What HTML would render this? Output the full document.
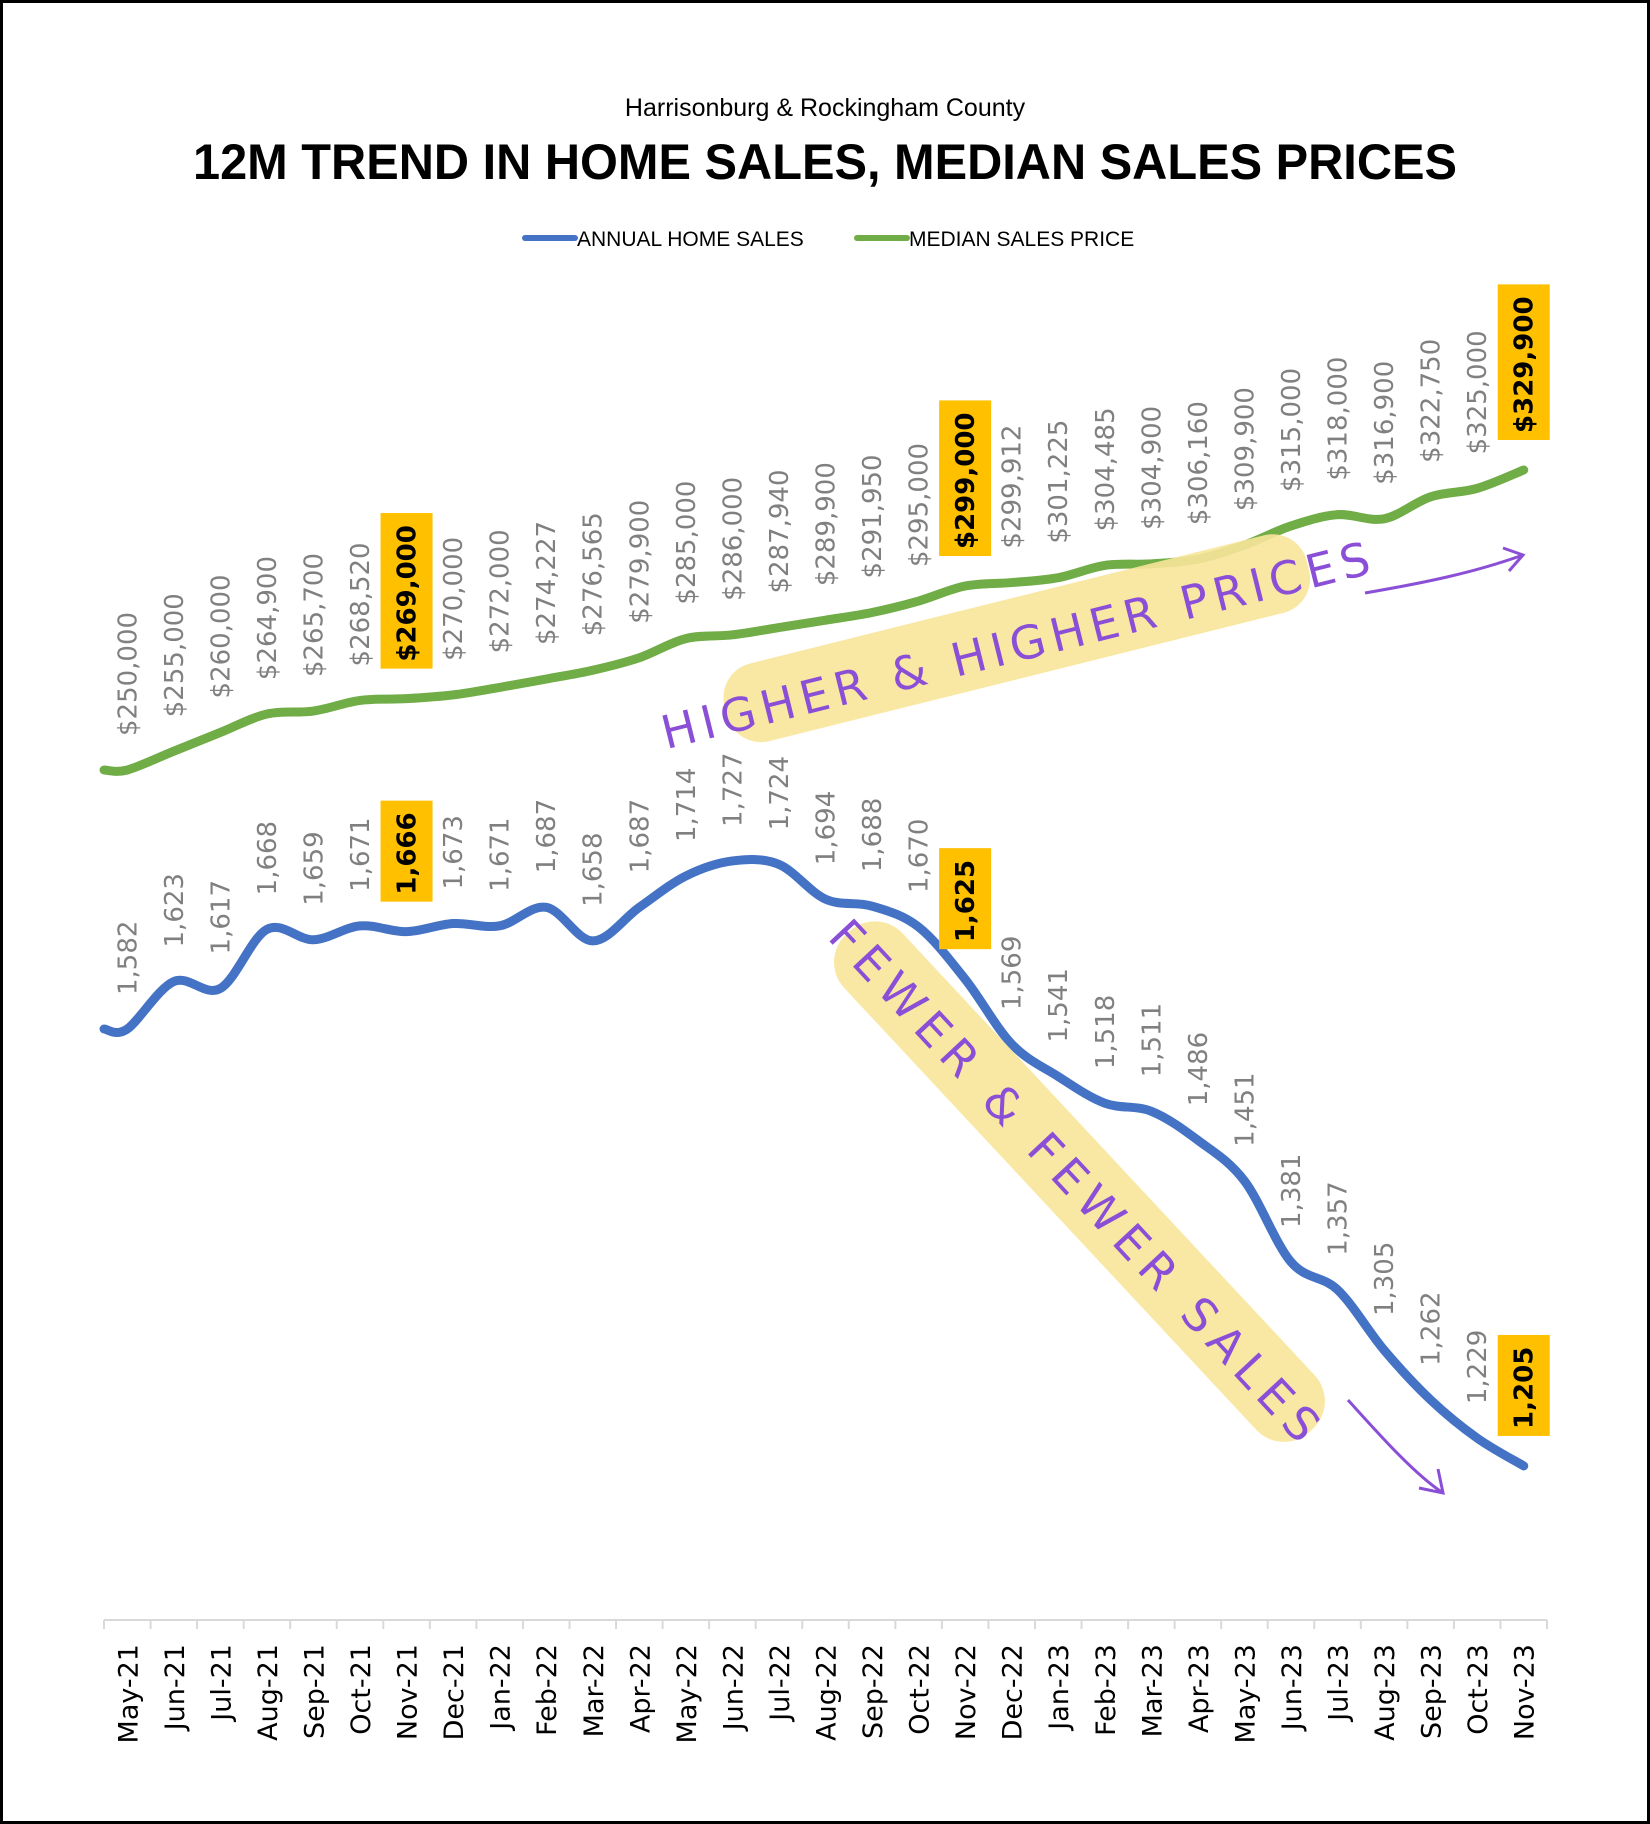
<!DOCTYPE html>
<html><head><meta charset="utf-8">
<style>
html,body{margin:0;padding:0;background:#fff}
#wrap{position:relative;width:1650px;height:1824px;box-sizing:border-box;border:3px solid #000;background:#fff;overflow:hidden}
svg{position:absolute;left:0;top:0}
</style></head>
<body>
<div id="wrap">
<svg id="chart" width="1650" height="1824" viewBox="0 0 1650 1824">
  <text x="822" y="113" text-anchor="middle" font-family="Liberation Sans, sans-serif" font-size="25" fill="#000">Harrisonburg &amp; Rockingham County</text>
  <text x="822" y="176" text-anchor="middle" font-family="Liberation Sans, sans-serif" font-weight="bold" font-size="50" textLength="1264" lengthAdjust="spacingAndGlyphs" fill="#000">12M TREND IN HOME SALES, MEDIAN SALES PRICES</text>
  <g>
    <g>
      <line x1="522" y1="235" x2="572" y2="235" stroke="#4472C4" stroke-width="6" stroke-linecap="round"/>
      <text x="574" y="243" font-family="Liberation Sans, sans-serif" font-size="21" fill="#000">ANNUAL HOME SALES</text>
    </g>
    <g>
      <line x1="854" y1="235" x2="904" y2="235" stroke="#70AD47" stroke-width="6" stroke-linecap="round"/>
      <text x="906" y="243" font-family="Liberation Sans, sans-serif" font-size="21" fill="#000">MEDIAN SALES PRICE</text>
    </g>
  </g>
  <g id="annot">
    <g transform="translate(1015,640) rotate(-14)">
      <rect x="-300" y="-45" width="600" height="80" rx="35" fill="#F8E59A" opacity="0.9"/>
      <text x="0" y="18" text-anchor="middle" font-family="DejaVu Sans, sans-serif" font-size="46" fill="#8A4FD6" letter-spacing="6">HIGHER &amp; HIGHER  PRICES</text>
    </g>
    <path d="M1362,590 C1420,580 1470,570 1520,552 M1500,545 L1520,552 L1506,568" fill="none" stroke="#8A4FD6" stroke-width="3"/>
    <g transform="translate(1075,1180) rotate(47)">
      <rect x="-340" y="-42" width="680" height="80" rx="38" fill="#F8E59A" opacity="0.9"/>
      <text x="0" y="17" text-anchor="middle" font-family="DejaVu Sans, sans-serif" font-size="46" fill="#8A4FD6" letter-spacing="8">FEWER &amp; FEWER SALES</text>
    </g>
    <path d="M1345,1397 C1375,1430 1410,1470 1440,1490 M1416,1485 L1440,1490 L1435,1466" fill="none" stroke="#8A4FD6" stroke-width="3"/>
  </g>
</svg>
</div>
<script>
const categories = ["May-21","Jun-21","Jul-21","Aug-21","Sep-21","Oct-21","Nov-21","Dec-21","Jan-22","Feb-22","Mar-22","Apr-22","May-22","Jun-22","Jul-22","Aug-22","Sep-22","Oct-22","Nov-22","Dec-22","Jan-23","Feb-23","Mar-23","Apr-23","May-23","Jun-23","Jul-23","Aug-23","Sep-23","Oct-23","Nov-23"];
const homeSales = [1582,1623,1617,1668,1659,1671,1666,1673,1671,1687,1658,1687,1714,1727,1724,1694,1688,1670,1625,1569,1541,1518,1511,1486,1451,1381,1357,1305,1262,1229,1205];
const medianPrice = [250000,255000,260000,264900,265700,268520,269000,270000,272000,274227,276565,279900,285000,286000,287940,289900,291950,295000,299000,299912,301225,304485,304900,306160,309900,315000,318000,316900,322750,325000,329900];
const highlightIdx = [6,18,30];

const NS = "http://www.w3.org/2000/svg";
const svg = document.getElementById('chart');
const annot = document.getElementById('annot');
const axisLeft = 101, axisRight = 1544, axisY = 1617;
const step = (axisRight - axisLeft) / categories.length;
function xPos(i){ return axisLeft + step * (i + 0.5); }
function ySales(v){ return 1026 - (v - 1582) * 1.159; }
function yPrice(v){ return 767 - (v - 250000) * 0.003755; }

function mk(tag, attrs){ const e = document.createElementNS(NS, tag); for (const k in attrs) e.setAttribute(k, attrs[k]); return e; }

const axisG = mk('g', {});


svg.insertBefore(axisG, annot);
const axLine = mk('line', {x1: axisLeft, y1: axisY, x2: axisRight, y2: axisY, stroke: '#D9D9D9', 'stroke-width': 2});


axisG.appendChild(axLine);
for (let i = 0; i <= categories.length; i++) {
  const tx = axisLeft + step * i;
  const t = mk('line', {x1: tx, y1: axisY, x2: tx, y2: axisY + 9, stroke: '#D9D9D9', 'stroke-width': 2});
  
  
  axisG.appendChild(t);
}
categories.forEach((c, i) => {
  const x = xPos(i) + 10, y = axisY + 24;
  const t = mk('text', {x: x, y: y, transform: `rotate(-90 ${x} ${y})`, 'text-anchor': 'end', 'font-family': 'DejaVu Sans, sans-serif', 'font-size': 27, fill: '#000'});
  t.textContent = c;
  
  
  axisG.appendChild(t);
});

function smoothPath(pts){
  let d = `M${pts[0][0]},${pts[0][1]}`;
  for (let i = 0; i < pts.length - 1; i++) {
    const p0 = pts[Math.max(0, i - 1)], p1 = pts[i], p2 = pts[i + 1], p3 = pts[Math.min(pts.length - 1, i + 2)];
    const c1x = p1[0] + (p2[0] - p0[0]) / 6, c1y = p1[1] + (p2[1] - p0[1]) / 6;
    const c2x = p2[0] - (p3[0] - p1[0]) / 6, c2y = p2[1] - (p3[1] - p1[1]) / 6;
    d += ` C${c1x},${c1y} ${c2x},${c2y} ${p2[0]},${p2[1]}`;
  }
  return d;
}

function drawSeries(values, yf, color, name, fmt){
  const g = mk('g', {});
  
  
  svg.insertBefore(g, annot);
  const pts = values.map((v, i) => [xPos(i), yf(v)]);
  pts.unshift([axisLeft, yf(values[0])]);
  const p = mk('path', {d: smoothPath(pts), fill: 'none', stroke: color, 'stroke-width': 9, 'stroke-linecap': 'round'});
  
  
  g.appendChild(p);
  values.forEach((v, i) => {
    const x = xPos(i), y = yf(v) - 34;
    const hl = highlightIdx.includes(i);
    const txt = fmt(v);
    const fs = 26;
    const lx = x + 9;
    if (hl) {
      const len = txt.length * (fs * 0.7) + 10;
      const r = mk('rect', {x: x - 26, y: y - len + 4, width: 52, height: len, fill: '#FFC000'});
      
      
      g.appendChild(r);
    }
    const ly = y - (hl ? 3 : 0);
    const t = mk('text', {x: lx, y: ly, transform: `rotate(-90 ${lx} ${ly})`, 'font-family': 'DejaVu Sans, sans-serif', 'font-size': fs, fill: hl ? '#000' : '#808080', 'font-weight': hl ? 'bold' : 'normal'});
    t.textContent = txt;
    
    
    g.appendChild(t);
  });
}
drawSeries(medianPrice, yPrice, '#70AD47', 'median-sales-price', v => '$' + v.toLocaleString('en-US'));
drawSeries(homeSales, ySales, '#4472C4', 'annual-home-sales', v => v.toLocaleString('en-US'));
</script>
</body></html>
